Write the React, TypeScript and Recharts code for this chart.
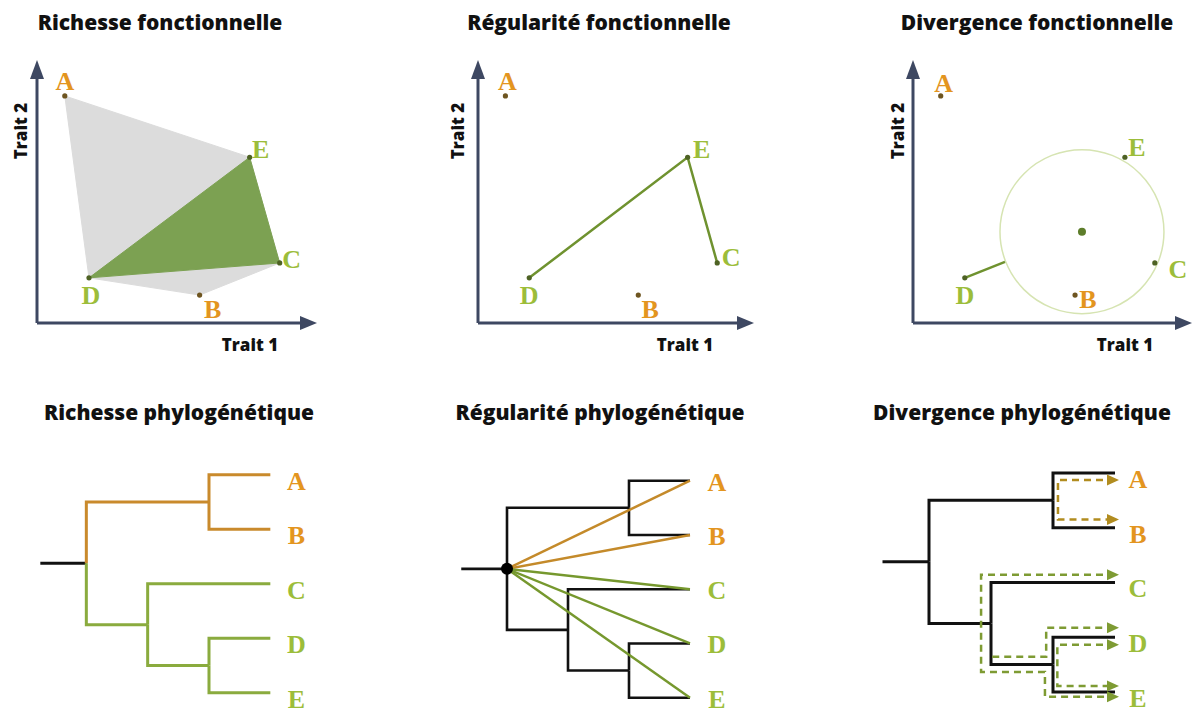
import React from 'react'
import { ScatterChart, Scatter, XAxis, YAxis, ReferenceLine, ReferenceDot } from 'recharts'

// species in trait space (both traits on a 0-100 scale)
const species = ['A', 'B', 'C', 'D', 'E']
const trait1 = [10, 58.5, 87.3, 18.7, 76.5]
const trait2 = [87, 10.7, 23, 17.3, 63.5]
const clade = ['orange', 'orange', 'green', 'green', 'green']

// functional richness: hull of all species, hull of the green clade
const hullAll = ['A', 'E', 'C', 'B', 'D']
const hullGreen = ['D', 'E', 'C']
// functional evenness: spanning tree of the green clade
const spanGreen = ['D', 'E', 'C']
// functional divergence: centre of gravity, mean distance, and D's deviation
const centroid = { x: 61, y: 35 }
const meanDist = 29.6
const spokeEnd = { x: 33.2, y: 23.4 }

// phylogeny (depth, vertical position)
const tipY = [5, 4, 3, 2, 1]
const tipDepth = 3
const nodeIds = ['root', 'AB', 'CDE', 'DE']
const nodeDepth = [0, 2, 1, 2]
const nodeY = [3.375, 4.5, 2.25, 1.5]
const edges = [
  ['root', 'AB'], ['root', 'CDE'], ['AB', 'A'], ['AB', 'B'],
  ['CDE', 'C'], ['CDE', 'DE'], ['DE', 'D'], ['DE', 'E'],
]
const stubStart = -0.75

// phylogenetic divergence: distance paths between tips
const mpdAB = [[3, 4.87], [2.08, 4.87], [2.08, 4.15], [3, 4.15]]
const mpdCE = [[3, 3.14], [0.84, 3.14], [0.84, 1.365], [1.87, 1.365], [1.87, 0.91], [3, 0.91]]
const mpdCD = [[1.02, 1.64], [1.89, 1.64], [1.89, 2.17], [3, 2.17]]
const mpdDE = [[3, 1.86], [2.07, 1.86], [2.07, 1.11], [3, 1.11]]

const COLORS: any = {
  orange: { label: '#e3951f', dot: '#6e5520', branch: '#c98a2c', path: '#b18c1f' },
  green: { label: '#9cbd3a', dot: '#4e6224', branch: '#8aab3e', path: '#7e9b33' },
}
const AXIS = '#3e4862'
const M = 44
const TRAIT_DOM: [number, number] = [0, 100]
const TREE_X: [number, number] = [-1, 4]
const TREE_Y: [number, number] = [0.6, 5.4]

const points = species.map((name, i) => ({ name, x: trait1[i], y: trait2[i], group: clade[i] }))
const byName = (names: string[]) => names.map(n => points.find(p => p.name === n))

const pos: any = {}
nodeIds.forEach((id, i) => { pos[id] = { x: nodeDepth[i], y: nodeY[i] } })
species.forEach((id, i) => { pos[id] = { x: tipDepth, y: tipY[i] } })
const elbow = ([p, c]: string[]) => [
  { x: pos[p].x, y: pos[p].y }, { x: pos[p].x, y: pos[c].y }, { x: pos[c].x, y: pos[c].y },
]
const tips = species.map((name, i) => ({ name, x: tipDepth, y: tipY[i], group: clade[i] }))

const NoShape = () => <g />

function Frame({ left, top, width, height, xDomain, yDomain, children }: any) {
  return (
    <div style={{ position: 'absolute', left: left - M, top: top - M }}>
      <ScatterChart width={width + 2 * M} height={height + 2 * M} margin={{ top: M, right: M, bottom: M, left: M }}>
        <XAxis type="number" dataKey="x" domain={xDomain} hide />
        <YAxis type="number" dataKey="y" domain={yDomain} hide />
        {children}
      </ScatterChart>
    </div>
  )
}

function treeFrame(rootPx: number, tipPx: number, topPx: number, bottomPx: number) {
  const ux = (tipPx - rootPx) / tipDepth
  const uy = (bottomPx - topPx) / (tipY[0] - tipY[4])
  return {
    left: rootPx + TREE_X[0] * ux,
    width: (TREE_X[1] - TREE_X[0]) * ux,
    top: topPx - (TREE_Y[1] - tipY[0]) * uy,
    height: (TREE_Y[1] - TREE_Y[0]) * uy,
    xDomain: TREE_X,
    yDomain: TREE_Y,
  }
}

const arrowUp = (p: any) => (
  <polygon points={`${p.cx},${p.cy - 2} ${p.cx - 7},${p.cy + 17} ${p.cx + 7},${p.cy + 17}`} fill={AXIS} />
)
const arrowRight = (p: any) => (
  <polygon points={`${p.cx + 2},${p.cy} ${p.cx - 15},${p.cy - 7} ${p.cx - 15},${p.cy + 7}`} fill={AXIS} />
)

const traitAxes = () => [
  <ReferenceLine key="ax" segment={[{ x: 0, y: 0 }, { x: 96, y: 0 }]} stroke={AXIS} strokeWidth={3} ifOverflow="visible" />,
  <ReferenceLine key="ay" segment={[{ x: 0, y: 0 }, { x: 0, y: 96 }]} stroke={AXIS} strokeWidth={3} ifOverflow="visible" />,
  <ReferenceDot key="hx" x={100} y={0} shape={arrowRight} ifOverflow="visible" />,
  <ReferenceDot key="hy" x={0} y={100} shape={arrowUp} ifOverflow="visible" />,
]

const speciesShape = (offsets: any) => (p: any) => {
  const d = p.payload
  const c = COLORS[d.group]
  const [dx, dy] = offsets[d.name]
  return (
    <g>
      <circle cx={p.cx} cy={p.cy} r={2.6} fill={c.dot} />
      <text x={p.cx + dx} y={p.cy + dy} textAnchor="middle" fontFamily="'Liberation Serif', serif"
        fontWeight="bold" fontSize={26} fill={c.label}>{d.name}</text>
    </g>
  )
}

const tipShape = (dx: number, dy: number) => (p: any) => {
  const d = p.payload
  return (
    <text x={p.cx + dx} y={p.cy + dy} textAnchor="middle" fontFamily="'Liberation Serif', serif"
      fontWeight="bold" fontSize={26} fill={COLORS[d.group].label}>{d.name}</text>
  )
}

const headShape = (color: string) => (p: any) => {
  if (!p.payload.head) return <g />
  return <polygon points={`${p.cx + 4},${p.cy} ${p.cx - 8},${p.cy - 5.5} ${p.cx - 8},${p.cy + 5.5}`} fill={color} />
}

const treeLines = (colorOf: (child: string) => string, width: number) => [
  <Scatter key="stub" data={[{ x: stubStart, y: pos.root.y }, { x: 0, y: pos.root.y }]} line={{ stroke: '#111', strokeWidth: width }}
    lineJointType="linear" shape={NoShape} isAnimationActive={false} />,
  ...edges.map(e => (
    <Scatter key={e.join('-')} data={elbow(e)} line={{ stroke: colorOf(e[1]), strokeWidth: width }}
      lineJointType="linear" shape={NoShape} isAnimationActive={false} />
  )),
]

const mpdPath = (key: string, pts: number[][], color: string, heads: 'both' | 'end') => (
  <Scatter key={key}
    data={pts.map(([x, y], i) => ({ x, y, head: i === pts.length - 1 || (heads === 'both' && i === 0) }))}
    line={{ stroke: color, strokeWidth: 2.5, strokeDasharray: '7 5' }} lineJointType="linear"
    shape={headShape(color)} isAnimationActive={false} />
)

const titleStyle: any = {
  position: 'absolute', transform: 'translateX(-50%)', whiteSpace: 'nowrap',
  fontFamily: "'Open Sans', sans-serif", fontWeight: 800, fontSize: 21, lineHeight: 1, color: '#111',
}
const axisLabel: any = {
  position: 'absolute', whiteSpace: 'nowrap', fontFamily: "'Open Sans', sans-serif", fontWeight: 800,
  fontSize: 17, lineHeight: 1, color: '#111',
}
const xLabel = (cx: number) => ({ ...axisLabel, left: cx, top: 344, transform: 'translate(-50%,-50%)' })
const yLabel = (cx: number) => ({ ...axisLabel, left: cx, top: 131, transform: 'translate(-50%,-50%) rotate(-90deg)' })

const offsets1 = { A: [0, -6], B: [13, 23], C: [12, 5], D: [2, 26], E: [11, 1] }
const offsets2 = { A: [2, -6], B: [12, 23], C: [14, 3], D: [0, 26], E: [14, 1] }
const offsets3 = { A: [3, -4], B: [13, 13], C: [23, 15], D: [0, 26], E: [12, -1] }

export default function App() {
  const t4 = treeFrame(86, 270, 475, 693)
  const t5 = treeFrame(507, 690, 481, 698)
  const t6 = treeFrame(929, 1115, 473, 692)
  const isOrange = (c: string) => ['AB', 'A', 'B'].includes(c)

  return (
    <div style={{ position: 'absolute', left: 0, top: 0, width: 1196, height: 715, overflow: 'hidden', background: '#fff' }}>
      <div style={{ ...titleStyle, left: 160, top: 12 }}>Richesse fonctionnelle</div>
      <div style={{ ...titleStyle, left: 599, top: 12 }}>Régularité fonctionnelle</div>
      <div style={{ ...titleStyle, left: 1037, top: 12 }}>Divergence fonctionnelle</div>
      <div style={{ ...titleStyle, left: 179, top: 402 }}>Richesse phylogénétique</div>
      <div style={{ ...titleStyle, left: 600, top: 402 }}>Régularité phylogénétique</div>
      <div style={{ ...titleStyle, left: 1022, top: 402 }}>Divergence phylogénétique</div>

      <div style={yLabel(20)}>Trait 2</div>
      <div style={yLabel(457)}>Trait 2</div>
      <div style={yLabel(897)}>Trait 2</div>
      <div style={xLabel(250)}>Trait 1</div>
      <div style={xLabel(685)}>Trait 1</div>
      <div style={xLabel(1125)}>Trait 1</div>

      {/* Richesse fonctionnelle */}
      <Frame left={37} top={62} width={278} height={261} xDomain={TRAIT_DOM} yDomain={TRAIT_DOM}>
        <Scatter data={byName(hullAll)} fill="#dcdcdc" line={{ fill: '#dcdcdc', stroke: '#dcdcdc', strokeWidth: 1 }}
          lineJointType="linearClosed" shape={NoShape} isAnimationActive={false} />
        <Scatter data={byName(hullGreen)} fill="#7ca152" line={{ fill: '#7ca152', stroke: '#7ca152', strokeWidth: 1 }}
          lineJointType="linearClosed" shape={NoShape} isAnimationActive={false} />
        {traitAxes()}
        <Scatter data={points} shape={speciesShape(offsets1)} isAnimationActive={false} />
      </Frame>

      {/* Régularité fonctionnelle */}
      <Frame left={478} top={62} width={274} height={261} xDomain={TRAIT_DOM} yDomain={TRAIT_DOM}>
        <Scatter data={byName(spanGreen)} line={{ stroke: '#6f922f', strokeWidth: 2.5 }} lineJointType="linear"
          shape={NoShape} isAnimationActive={false} />
        {traitAxes()}
        <Scatter data={points} shape={speciesShape(offsets2)} isAnimationActive={false} />
      </Frame>

      {/* Divergence fonctionnelle */}
      <Frame left={913} top={62} width={277} height={261} xDomain={TRAIT_DOM} yDomain={TRAIT_DOM}>
        <Scatter data={[centroid, { x: centroid.x + meanDist, y: centroid.y }]} shape={NoShape} isAnimationActive={false}
          line={(lp: any) => (
            <circle cx={lp.points[0].x} cy={lp.points[0].y} fill="none" stroke="#d6e4b2" strokeWidth={1.5}
              r={Math.hypot(lp.points[1].x - lp.points[0].x, lp.points[1].y - lp.points[0].y)} />
          )} />
        <Scatter data={[byName(['D'])[0], spokeEnd]} line={{ stroke: '#6f922f', strokeWidth: 2.5 }} lineJointType="linear"
          shape={NoShape} isAnimationActive={false} />
        <Scatter data={[centroid]} shape={(p: any) => <circle cx={p.cx} cy={p.cy} r={4} fill="#5d7d2a" />} isAnimationActive={false} />
        {traitAxes()}
        <Scatter data={points} shape={speciesShape(offsets3)} isAnimationActive={false} />
      </Frame>

      {/* Richesse phylogénétique */}
      <Frame {...t4}>
        {treeLines(c => (isOrange(c) ? COLORS.orange.branch : COLORS.green.branch), 3)}
        <Scatter data={tips} shape={tipShape(26, 15)} isAnimationActive={false} />
      </Frame>

      {/* Régularité phylogénétique */}
      <Frame {...t5}>
        {treeLines(() => '#111', 2.6)}
        {tips.map(t => (
          <Scatter key={'r' + t.name} data={[pos.root, { x: t.x, y: t.y }]}
            line={{ stroke: t.group === 'orange' ? '#c48a2a' : '#76982e', strokeWidth: 2.5 }}
            lineJointType="linear" shape={NoShape} isAnimationActive={false} />
        ))}
        <Scatter data={[pos.root]} shape={(p: any) => <circle cx={p.cx} cy={p.cy} r={6} fill="#000" />} isAnimationActive={false} />
        <Scatter data={tips} shape={tipShape(27, 10)} isAnimationActive={false} />
      </Frame>

      {/* Divergence phylogénétique */}
      <Frame {...t6}>
        {treeLines(() => '#111', 3)}
        {mpdPath('ab', mpdAB, COLORS.orange.path, 'both')}
        {mpdPath('ce', mpdCE, COLORS.green.path, 'both')}
        {mpdPath('cd', mpdCD, COLORS.green.path, 'end')}
        {mpdPath('de', mpdDE, COLORS.green.path, 'both')}
        <Scatter data={tips} shape={tipShape(23, 15)} isAnimationActive={false} />
      </Frame>
    </div>
  )
}
